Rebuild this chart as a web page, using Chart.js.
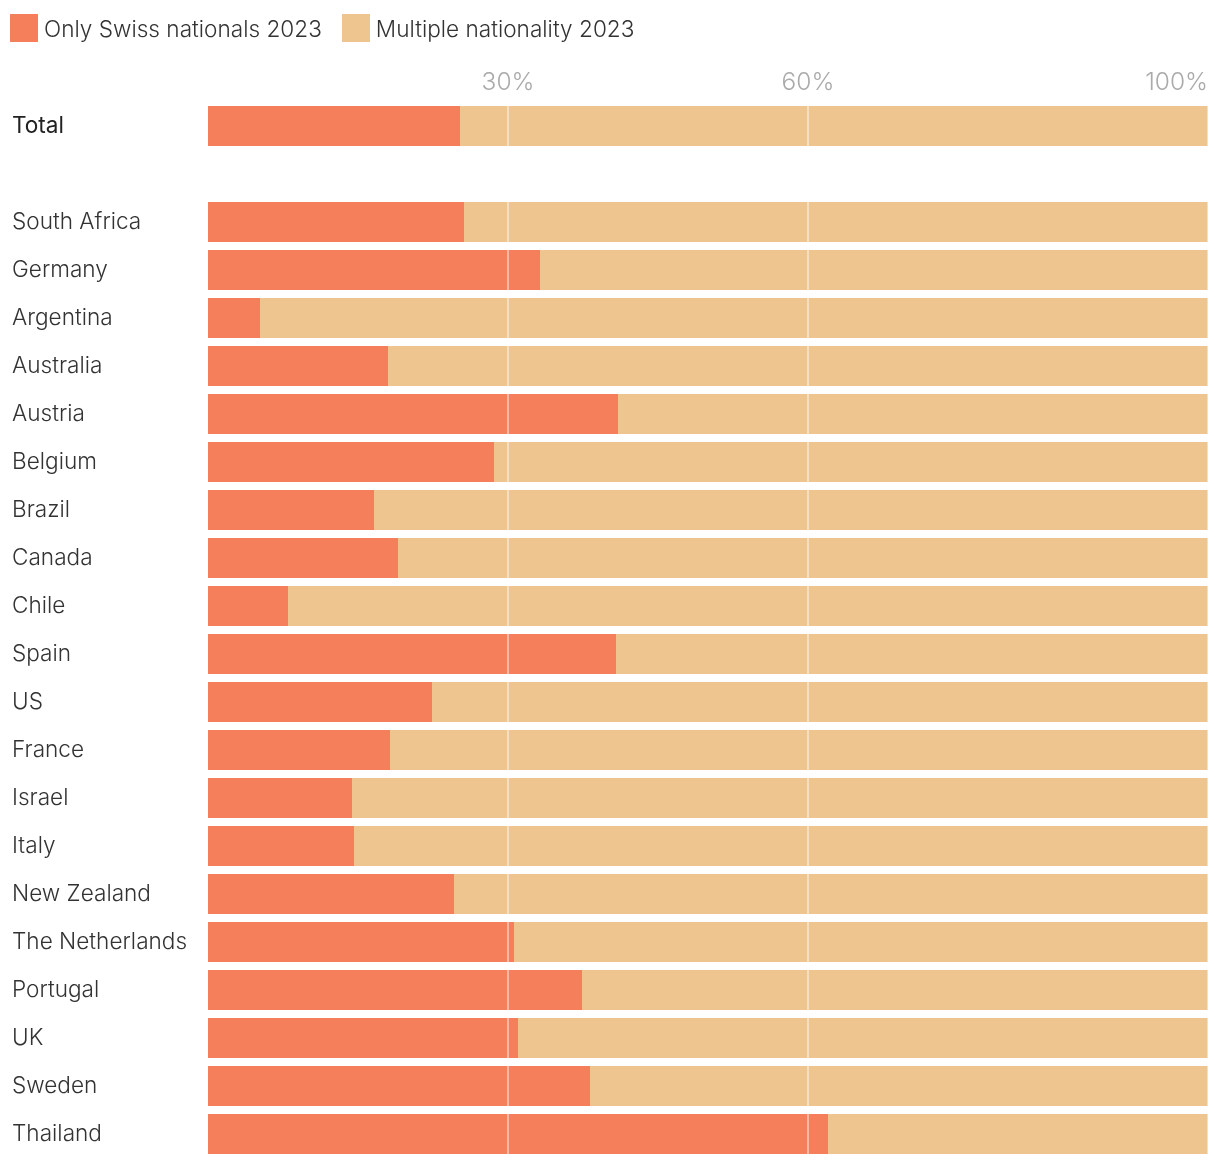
<!DOCTYPE html>
<html>
<head>
<meta charset="utf-8">
<script src="https://cdn.jsdelivr.net/npm/chart.js@4"></script>
<style>
  html, body { margin: 0; padding: 0; background: #fff; }
  #wrap { position: relative; width: 1220px; height: 1166px; }
  #chart { position: absolute; left: 0; top: 0; }
  #legend { position: absolute; left: 10px; top: 14px; display: flex; align-items: center;
            font-family: Inter, "Noto Sans", sans-serif; font-weight: 300; font-size: 22.6px; color: #333; }
  .item { display: flex; align-items: center; margin-right: 20px; }
  .sw { width: 28px; height: 28px; margin-right: 6px; }
</style>
</head>
<body>
<div id="wrap">
  <canvas id="chart" width="1220" height="1166"></canvas>
  <div id="legend"></div>
</div>
<script>
const categories = ["Total", "", "South Africa", "Germany", "Argentina", "Australia", "Austria", "Belgium", "Brazil", "Canada", "Chile", "Spain", "US", "France", "Israel", "Italy", "New Zealand", "The Netherlands", "Portugal", "UK", "Sweden", "Thailand"];
const seriesNames = ["Only Swiss nationals 2023", "Multiple nationality 2023"];
const onlySwiss = [25.2, null, 25.6, 33.2, 5.2, 18.0, 41.0, 28.6, 16.6, 19.0, 8.0, 40.8, 22.4, 18.2, 14.4, 14.6, 24.6, 30.6, 37.4, 31.0, 38.2, 62.0];
const multiple = [74.8, null, 74.4, 66.8, 94.8, 82.0, 59.0, 71.4, 83.4, 81.0, 92.0, 59.2, 77.6, 81.8, 85.6, 85.4, 75.4, 69.4, 62.6, 69.0, 61.8, 38.0];
const xTicks = [30, 60, 100];
const colors = ["#F47F5A", "#EEC48F"];
const FONT = "Inter, 'Noto Sans', sans-serif";

const legend = document.getElementById('legend');
seriesNames.forEach((n, i) => {
  const it = document.createElement('div'); it.className = 'item';
  const sw = document.createElement('div'); sw.className = 'sw'; sw.style.background = colors[i];
  const tx = document.createElement('span'); tx.textContent = n;
  it.appendChild(sw); it.appendChild(tx); legend.appendChild(it);
});

const tickLabelPlugin = {
  id: 'tickLabels',
  afterDraw(chart) {
    const ctx = chart.ctx, sc = chart.scales.x, area = chart.chartArea;
    ctx.save();
    ctx.font = "300 24.5px " + FONT;
    ctx.fillStyle = "#aaaaaa";
    ctx.textBaseline = "middle";
    xTicks.forEach(v => {
      const label = v + "%";
      const x = sc.getPixelForValue(v);
      const w = ctx.measureText(label).width;
      if (x + w / 2 > area.right) { ctx.textAlign = "right"; ctx.fillText(label, area.right, 83); }
      else { ctx.textAlign = "center"; ctx.fillText(label, x, 83); }
    });
    ctx.restore();
  }
};

new Chart(document.getElementById('chart'), {
  type: 'bar',
  data: {
    labels: categories,
    datasets: [
      { label: seriesNames[0], data: onlySwiss, backgroundColor: colors[0], borderWidth: 0 },
      { label: seriesNames[1], data: multiple, backgroundColor: colors[1], borderWidth: 0 }
    ]
  },
  options: {
    indexAxis: 'y',
    responsive: false,
    animation: false,
    devicePixelRatio: 1,
    layout: { padding: { left: 12, right: 12, top: 102, bottom: 8 } },
    datasets: { bar: { categoryPercentage: 1, barPercentage: 40 / 48 } },
    plugins: { legend: { display: false }, tooltip: { enabled: false } },
    scales: {
      x: {
        stacked: true, min: 0, max: 100, position: 'top',
        afterBuildTicks: (s) => { s.ticks = xTicks.map(v => ({ value: v })); },
        afterFit: (s) => { s.height = 0; s.paddingLeft = 0; s.paddingRight = 0; },
        ticks: { display: false },
        border: { display: false },
        grid: { z: 1, color: 'rgba(255,255,255,0.45)', lineWidth: 2, drawTicks: false }
      },
      y: {
        stacked: true,
        afterFit: (s) => { s.width = 196; s.paddingTop = 0; s.paddingBottom = 0; },
        border: { display: false },
        grid: { display: false, drawTicks: false },
        ticks: {
          crossAlign: 'far', padding: 0,
          color: (c) => c.index === 0 ? '#222' : '#333',
          font: (c) => ({ family: FONT, size: 22.6, weight: c.index === 0 ? 400 : 300 })
        }
      }
    }
  },
  plugins: [tickLabelPlugin]
});
</script>
</body>
</html>
